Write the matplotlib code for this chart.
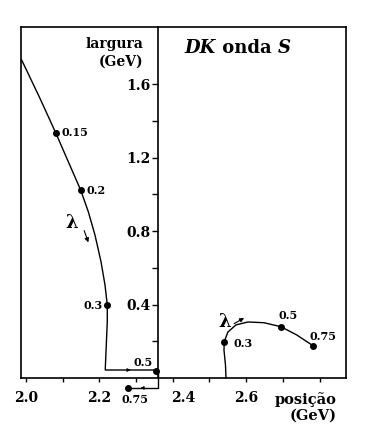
import numpy as np
import matplotlib.pyplot as plt
from matplotlib.transforms import ScaledTranslation

# pole trajectory, left part (lambda grows from top-left)
left_x = [1.9883, 2.0381, 2.0809, 2.1153, 2.1490, 2.1698, 2.1880, 2.2044, 2.2153, 2.2215,
          2.2215, 2.2188, 2.2161, 2.2161, 2.36]
left_y = [1.731, 1.5226, 1.3353, 1.1775, 1.0234, 0.9053, 0.7784, 0.6331, 0.5063, 0.3974,
          0.3065, 0.1796, 0.0528, 0.0435, 0.0435]
# piece below the real axis
low_x = [2.36, 2.36, 2.277]
low_y = [0.0435, -0.054, -0.054]

# right trajectory
right_x = [2.545, 2.5436, 2.5395, 2.5403, 2.550, 2.572, 2.605, 2.6485, 2.695, 2.738, 2.782]
right_y = [0.0, 0.071, 0.152, 0.198, 0.250, 0.289, 0.305, 0.301, 0.279, 0.234, 0.176]

# marked lambda values
left_lam = ["0.15", "0.2", "0.3", "0.5", "0.75"]
left_px = [2.0809, 2.1490, 2.2215, 2.354, 2.277]
left_py = [1.3353, 1.0234, 0.3974, 0.040, -0.054]
right_lam = ["0.3", "0.5", "0.75"]
right_px = [2.5403, 2.695, 2.782]
right_py = [0.198, 0.279, 0.176]

xticks = [2.0, 2.1, 2.2, 2.3, 2.4, 2.5, 2.6, 2.7, 2.8]
xticklabels = ["2.0", "", "2.2", "", "2.4", "", "2.6", "", ""]
yticks = [0.2, 0.4, 0.6, 0.8, 1.0, 1.2, 1.4, 1.6]
yticklabels = ["", "0.4", "", "0.8", "", "1.2", "", "1.6"]

plt.rcParams['font.family'] = 'DejaVu Serif'
plt.rcParams['font.weight'] = 'bold'

fig = plt.figure(figsize=(3.72, 4.47), dpi=100)
ax = fig.add_axes([21/372, 69/447, 325/372, 351/447])
ax.set_xlim(1.9864, 2.872)
ax.set_ylim(0, 1.911)

# frame + y axis through 2.36
for s in ['top', 'right', 'bottom']:
    ax.spines[s].set_linewidth(1.2)
ax.spines['left'].set_position(('data', 2.36))
ax.spines['left'].set_linewidth(1.2)
ax.plot([0, 0], [0, 1], transform=ax.transAxes, color='black', lw=1.2, clip_on=False)

ax.set_xticks(xticks)
ax.set_xticklabels(xticklabels)
ax.set_yticks(yticks)
ax.set_yticklabels(yticklabels)
ax.tick_params(axis='x', direction='out', length=3, width=1, pad=6, labelsize=10)
ax.tick_params(axis='y', direction='out', length=4.5, width=1, pad=1, labelsize=10)
for lbl in ax.get_xticklabels():
    if lbl.get_text() == "2.4":
        lbl.set_transform(lbl.get_transform() + ScaledTranslation(0.10, 0, fig.dpi_scale_trans))

# curves
ax.plot(left_x, left_y, color='black', lw=1.0, clip_on=False)
ax.plot(low_x, low_y, color='black', lw=1.0, clip_on=False)
ax.plot(right_x, right_y, color='black', lw=1.0, clip_on=False)
ax.plot(left_px, left_py, 'o', color='black', ms=4, clip_on=False)
ax.plot(right_px, right_py, 'o', color='black', ms=4, clip_on=False)

left_off = [(6, 0, 'left'), (6, 0, 'left'), (-5, 0, 'right'), (-13, 8, 'center'), (7, -12, 'center')]
for lam, x, y, (dx, dy, ha) in zip(left_lam, left_px, left_py, left_off):
    ax.annotate(lam, (x, y), xytext=(dx, dy), textcoords='offset pixels',
                ha=ha, va='center', fontsize=8, annotation_clip=False)
right_off = [(9, -2, 'left'), (-3, 11, 'left'), (-3, 9, 'left')]
for lam, x, y, (dx, dy, ha) in zip(right_lam, right_px, right_py, right_off):
    ax.annotate(lam, (x, y), xytext=(dx, dy), textcoords='offset pixels',
                ha=ha, va='center', fontsize=8, annotation_clip=False)

# lambda direction arrows
ax.text(2.124, 0.844, "λ", fontsize=13, ha='center', va='center')
ax.annotate("", xy=(2.1725, 0.724), xytext=(2.156, 0.8166),
            arrowprops=dict(arrowstyle='-|>', lw=0.8, color='black', mutation_scale=6))
ax.text(2.542, 0.306, "λ", fontsize=13, ha='center', va='center')
ax.annotate("", xy=(2.601, 0.334), xytext=(2.5605, 0.2885),
            arrowprops=dict(arrowstyle='-|>', lw=0.8, color='black', mutation_scale=6))
ax.annotate("", xy=(2.285, 0.0435), xytext=(2.27, 0.0435),
            arrowprops=dict(arrowstyle='-|>', lw=0.6, color='black', mutation_scale=5))
ax.annotate("", xy=(2.312, -0.054), xytext=(2.327, -0.054), annotation_clip=False,
            arrowprops=dict(arrowstyle='-|>', lw=0.6, color='black', mutation_scale=5, clip_on=False))

# axis labels and title
ax.text(2.319, 1.818, "largura", ha='right', va='center', fontsize=10)
ax.text(2.319, 1.720, "(GeV)", ha='right', va='center', fontsize=10)
ax.text(2.847, -0.120, "posição", ha='right', va='center', fontsize=10.5, clip_on=False)
ax.text(2.847, -0.207, "(GeV)", ha='right', va='center', fontsize=10.5, clip_on=False)

t1 = ax.text(2.433, 1.796, "DK", fontsize=13, style='italic', va='center')
t2 = ax.annotate(" onda ", xy=(1, 0), xycoords=t1, va='bottom', fontsize=13)
ax.annotate("S", xy=(1, 0), xycoords=t2, va='bottom', fontsize=13, style='italic')

fig.savefig("out.png", dpi=100)
